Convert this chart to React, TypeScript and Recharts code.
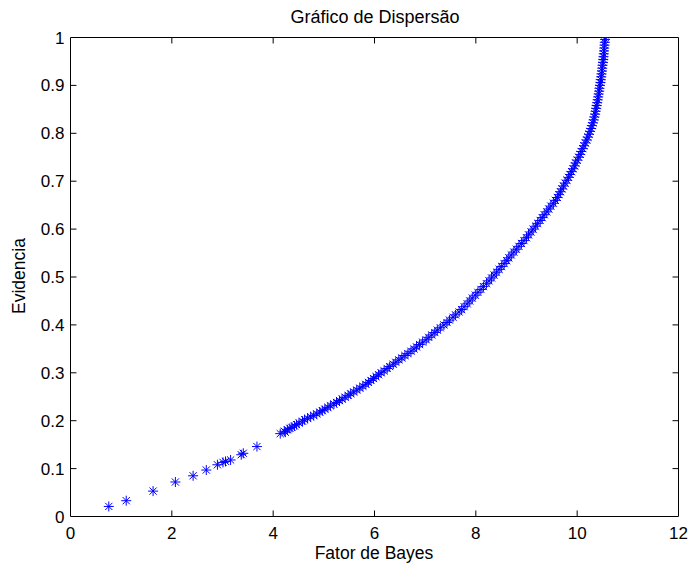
import { ScatterChart, Scatter, XAxis, YAxis, ReferenceLine } from 'recharts';

// sparse points at the low end of the curve
const lowBayes = [0.756, 1.1, 1.63, 2.07, 2.42, 2.68, 2.9, 3.01, 3.06, 3.16, 3.37, 3.41, 3.68, 4.14, 4.24];
const lowEvid = [0.021, 0.033, 0.053, 0.072, 0.085, 0.097, 0.108, 0.113, 0.115, 0.118, 0.129, 0.132, 0.146, 0.173, 0.176];

// dense part, read along the band
const denseBayes = [
  4.22, 4.28, 4.33, 4.37, 4.42, 4.46, 4.51, 4.58, 4.62, 4.68, 4.74, 4.8, 4.86, 4.92, 4.97, 5.02, 5.08, 5.13, 5.2, 5.25,
  5.31, 5.36, 5.42, 5.48, 5.53, 5.59, 5.65, 5.71, 5.77, 5.83, 5.88, 5.93, 5.98, 6.03, 6.08, 6.13, 6.19, 6.25, 6.3, 6.37,
  6.42, 6.48, 6.54, 6.6, 6.66, 6.72, 6.78, 6.83, 6.89, 6.95, 7.02, 7.07, 7.13, 7.19, 7.24, 7.3, 7.37, 7.43, 7.48, 7.55,
  7.6, 7.67, 7.72, 7.77, 7.83, 7.88, 7.93, 7.99, 8.04, 8.1, 8.15, 8.21, 8.26, 8.31, 8.36, 8.41, 8.46, 8.51, 8.56, 8.61,
  8.65, 8.7, 8.75, 8.8, 8.85, 8.9, 8.95, 9.0, 9.04, 9.09, 9.13, 9.18, 9.22, 9.27, 9.31, 9.35, 9.4, 9.44, 9.48, 9.53,
  9.57, 9.61, 9.64, 9.67, 9.7, 9.73, 9.76, 9.8, 9.83, 9.86, 9.89, 9.92, 9.95, 9.97, 10.0, 10.03, 10.06, 10.08, 10.11, 10.135,
  10.16, 10.19, 10.21, 10.235, 10.255, 10.275, 10.29, 10.31, 10.325, 10.34, 10.355, 10.365, 10.375, 10.385, 10.395, 10.405, 10.415, 10.425, 10.435, 10.44,
  10.45, 10.46, 10.465, 10.475, 10.48, 10.49, 10.495, 10.5, 10.51, 10.515, 10.52, 10.525, 10.53, 10.535, 10.54, 10.545, 10.55, 10.555,
];
const denseEvid = [
  0.178, 0.181, 0.184, 0.186, 0.189, 0.192, 0.195, 0.199, 0.202, 0.205, 0.208, 0.211, 0.214, 0.218, 0.221, 0.224, 0.228, 0.231, 0.235, 0.238,
  0.242, 0.245, 0.249, 0.253, 0.256, 0.26, 0.264, 0.268, 0.272, 0.276, 0.28, 0.284, 0.288, 0.292, 0.296, 0.3, 0.304, 0.309, 0.313, 0.318,
  0.322, 0.327, 0.331, 0.336, 0.34, 0.345, 0.35, 0.354, 0.359, 0.364, 0.369, 0.374, 0.379, 0.384, 0.389, 0.394, 0.4, 0.405, 0.41, 0.416,
  0.421, 0.427, 0.432, 0.438, 0.444, 0.45, 0.456, 0.462, 0.468, 0.474, 0.48, 0.486, 0.492, 0.498, 0.504, 0.51, 0.516, 0.522, 0.528, 0.534,
  0.54, 0.546, 0.552, 0.558, 0.564, 0.57, 0.576, 0.582, 0.588, 0.594, 0.6, 0.606, 0.612, 0.618, 0.624, 0.63, 0.636, 0.642, 0.648, 0.654,
  0.66, 0.666, 0.672, 0.678, 0.684, 0.69, 0.696, 0.702, 0.708, 0.714, 0.72, 0.726, 0.732, 0.738, 0.744, 0.75, 0.756, 0.762, 0.768, 0.774,
  0.78, 0.786, 0.792, 0.798, 0.804, 0.81, 0.816, 0.822, 0.828, 0.834, 0.84, 0.846, 0.852, 0.858, 0.864, 0.87, 0.876, 0.882, 0.888, 0.894,
  0.9, 0.906, 0.912, 0.918, 0.924, 0.93, 0.936, 0.942, 0.948, 0.954, 0.96, 0.966, 0.972, 0.978, 0.984, 0.99, 0.996, 1.0,
];

const xTicks = [0, 2, 4, 6, 8, 10, 12];
const yTicks = [0, 0.1, 0.2, 0.3, 0.4, 0.5, 0.6, 0.7, 0.8, 0.9, 1];

const points = [...lowBayes, ...denseBayes].map((x, i) => ({
  x,
  y: i < lowBayes.length ? lowEvid[i] : denseEvid[i - lowBayes.length],
}));

const FONT = '"Liberation Sans", Arial, Helvetica, sans-serif';
const BLUE = '#0000ff';

const Asterisk = (props: any) => {
  const { cx, cy } = props;
  const r = 5;
  const d = 3.6;
  return (
    <g stroke={BLUE} strokeWidth={1}>
      <line x1={cx - r} y1={cy} x2={cx + r} y2={cy} />
      <line x1={cx} y1={cy - r} x2={cx} y2={cy + r} />
      <line x1={cx - d} y1={cy - d} x2={cx + d} y2={cy + d} />
      <line x1={cx - d} y1={cy + d} x2={cx + d} y2={cy - d} />
    </g>
  );
};

const fmt = (v: number) => (v === 0 || v === 1 ? String(v) : v.toFixed(1));

export default function App() {
  const tickStyle = { fill: '#000', fontSize: 17, fontFamily: FONT };
  const tk = { stroke: '#000', strokeWidth: 1 };
  return (
    <div style={{ position: 'fixed', left: 0, top: 0, width: 689, height: 564, background: '#fff' }}>
      <ScatterChart width={689} height={564} margin={{ top: 37.5, right: 10.5, left: 0, bottom: 0 }}>
        <XAxis
          type="number"
          dataKey="x"
          domain={[0, 12]}
          ticks={xTicks}
          height={47.5}
          tickSize={0}
          tickMargin={10}
          tickLine={false}
          axisLine={{ stroke: '#000' }}
          tick={tickStyle}
          allowDataOverflow
        />
        <YAxis
          type="number"
          dataKey="y"
          domain={[0, 1]}
          ticks={yTicks}
          width={70.5}
          tickSize={0}
          tickMargin={6}
          tickLine={false}
          axisLine={{ stroke: '#000' }}
          tick={tickStyle}
          tickFormatter={fmt}
          allowDataOverflow
        />
        <ReferenceLine y={1} stroke="#000" />
        <ReferenceLine x={12} stroke="#000" />
        {xTicks.slice(1, -1).map((t) => (
          <ReferenceLine key={'xb' + t} segment={[{ x: t, y: 0 }, { x: t, y: 0.0125 }]} {...tk} />
        ))}
        {xTicks.slice(1, -1).map((t) => (
          <ReferenceLine key={'xt' + t} segment={[{ x: t, y: 1 }, { x: t, y: 0.9875 }]} {...tk} />
        ))}
        {yTicks.slice(1, -1).map((t) => (
          <ReferenceLine key={'yl' + t} segment={[{ x: 0, y: t }, { x: 0.118, y: t }]} {...tk} />
        ))}
        {yTicks.slice(1, -1).map((t) => (
          <ReferenceLine key={'yr' + t} segment={[{ x: 12, y: t }, { x: 11.882, y: t }]} {...tk} />
        ))}
        <Scatter data={points} shape={Asterisk} isAnimationActive={false} />
      </ScatterChart>
      <svg width={689} height={564} style={{ position: 'absolute', left: 0, top: 0, pointerEvents: 'none' }}>
        <text x={375} y={23} textAnchor="middle" fontFamily={FONT} fontSize={18} fill="#000">
          Gráfico de Dispersão
        </text>
        <text x={374} y={559} textAnchor="middle" fontFamily={FONT} fontSize={17.5} fill="#000">
          Fator de Bayes
        </text>
        <text
          x={0}
          y={0}
          transform="translate(25 276) rotate(-90)"
          textAnchor="middle"
          fontFamily={FONT}
          fontSize={17.5}
          fill="#000"
        >
          Evidencia
        </text>
      </svg>
    </div>
  );
}
